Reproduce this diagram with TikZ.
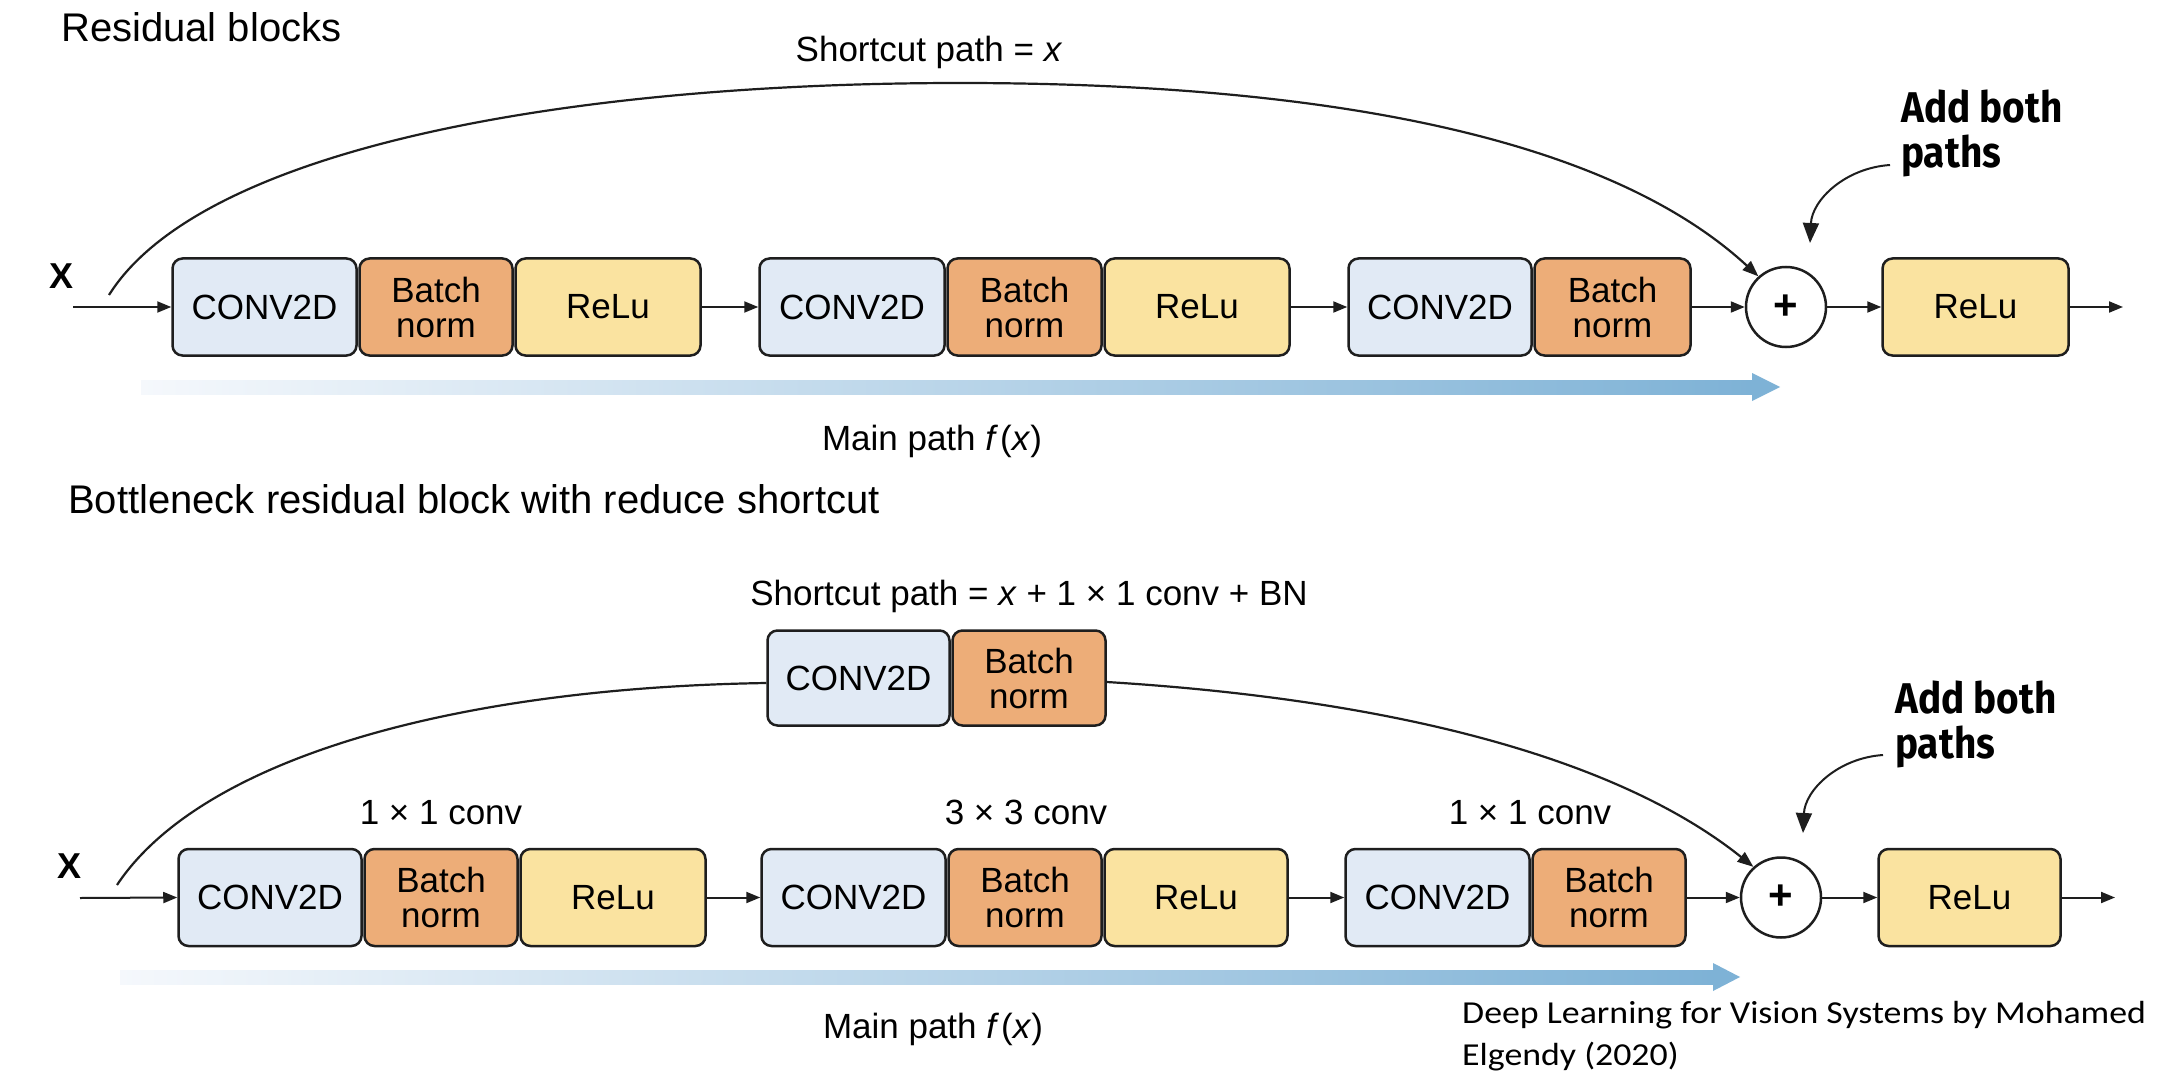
\documentclass[tikz,border=0pt]{standalone}
\usepackage{fontspec}
\setmainfont{Liberation Sans}
\newfontfamily\addfont{Fira Sans}[FakeStretch=0.9]
\newfontfamily\citefont{Carlito}[FakeStretch=1.12]
\usetikzlibrary{arrows.meta,shapes.geometric}
\definecolor{convc}{HTML}{E1EAF5}
\definecolor{bnc}{HTML}{EDAD78}
\definecolor{reluc}{HTML}{FAE3A0}
\definecolor{bluelight}{HTML}{F5F8FC}
\definecolor{bluedark}{HTML}{7EB2D6}
\definecolor{edgec}{HTML}{1E1E1E}
\begin{document}
\begin{tikzpicture}[x=1pt,y=-1pt,
  blk/.style={draw=edgec, line width=2.5pt, rounded corners=10pt, minimum height=97pt, inner sep=0pt, align=center, font=\fontsize{35}{35}\selectfont},
  conv/.style={blk, fill=convc},
  bn/.style={blk, fill=bnc},
  relu/.style={blk, fill=reluc},
  addc/.style={circle, draw=edgec, line width=2.5pt, fill=white, minimum size=80pt, inner sep=0pt, font=\fontsize{42}{42}\selectfont\bfseries},
  flow/.style={draw=edgec, line width=2pt, -{Triangle[length=14pt,width=11pt]}},
  skipc/.style={draw=edgec, line width=2.2pt},
  skiparrow/.style={skipc, -{Triangle[length=16pt,width=12pt]}},
  note/.style={draw=edgec, line width=2pt, -{Triangle[length=20pt,width=16pt]}},
  lbl/.style={inner sep=0pt, anchor=base, font=\fontsize{35}{42}\selectfont},
  title/.style={inner sep=0pt, anchor=base west, font=\fontsize{40}{48}\selectfont},
  xlbl/.style={inner sep=0pt, anchor=base west, font=\fontsize{36}{40}\selectfont\bfseries},
  addlbl/.style={inner sep=0pt, anchor=north west, align=left, font=\addfont\bfseries\fontsize{43}{45}\selectfont},
]
\fill[white] (0,0) rectangle (2176,1075);
\useasboundingbox (0,0) rectangle (2176,1075);

% ---------------- Row 1 ----------------
\node[title] (t1) at (61,42) {Residual blocks};
\node[lbl] (sl1) at (929,62) {Shortcut path = \textit{x}};
\node[xlbl] (x1) at (49,288) {X};

\node[conv, minimum width=184pt] (c11) at (264.5,307) {CONV2D};
\node[bn,   minimum width=153pt] (b11) at (436,307) {Batch\\norm};
\node[relu, minimum width=185pt] (r11) at (608,307) {ReLu};
\node[conv, minimum width=185pt] (c12) at (852,307) {CONV2D};
\node[bn,   minimum width=154pt] (b12) at (1024.5,307) {Batch\\norm};
\node[relu, minimum width=185pt] (r12) at (1197,307) {ReLu};
\node[conv, minimum width=183pt] (c13) at (1440,307) {CONV2D};
\node[bn,   minimum width=156pt] (b13) at (1612.5,307) {Batch\\norm};
\node[addc] (add1) at (1786,307) {+};
\node[relu, minimum width=186pt] (r14) at (1975.5,307) {ReLu};

\coordinate (in1) at (73,307);
\coordinate (out1) at (2123,307);
\coordinate (s1) at (109,295);

\draw[flow] (in1) -- (c11.west);
\draw[flow] (r11.east) -- (c12.west);
\draw[flow] (r12.east) -- (c13.west);
\draw[flow] (b13.east) -- (add1.west);
\draw[flow] (add1.east) -- (r14.west);
\draw[flow] (r14.east) -- (out1);

\draw[skiparrow] (s1) .. controls (200,150) and (560,83) .. (960,83)
  .. controls (1300,83) and (1600,130) .. (add1.132);

\coordinate (m1s) at (141,387);
\coordinate (m1e) at (1752,387);
\shade[left color=bluelight, right color=bluedark] (141,380) rectangle (1752,394);
\fill[bluedark] (1752,373) -- (1780,387) -- (1752,401) -- cycle;
\node[lbl] (ml1) at (932,450) {Main path \textit{f}\kern2pt(\textit{x})};

\node[addlbl] (ab1) at (1901,90) {Add both\\paths};
\coordinate (n1) at (1890,165);
\draw[note] (n1) .. controls (1845,168) and (1812,200) .. (1810,243);

% ---------------- Row 2 ----------------
\node[title] (t2) at (68,513) {Bottleneck residual block with reduce shortcut};
\node[lbl] (sl2) at (1029,605) {Shortcut path = \textit{x} + 1 × 1 conv + BN};
\node[xlbl] (x2) at (57,878) {X};

\node[conv, minimum width=182pt, minimum height=95pt] (sc) at (858.5,678) {CONV2D};
\node[bn,   minimum width=153pt, minimum height=95pt] (sb) at (1029,678) {Batch\\norm};

\node[lbl] (k1) at (441,824) {1 × 1 conv};
\node[lbl] (k2) at (1026,824) {3 × 3 conv};
\node[lbl] (k3) at (1530,824) {1 × 1 conv};

\node[conv, minimum width=183pt] (c21) at (270,897.5) {CONV2D};
\node[bn,   minimum width=153pt] (b21) at (441,897.5) {Batch\\norm};
\node[relu, minimum width=185pt] (r21) at (613,897.5) {ReLu};
\node[conv, minimum width=184pt] (c22) at (853.5,897.5) {CONV2D};
\node[bn,   minimum width=153pt] (b22) at (1025,897.5) {Batch\\norm};
\node[relu, minimum width=183pt] (r22) at (1196,897.5) {ReLu};
\node[conv, minimum width=184pt] (c23) at (1437.5,897.5) {CONV2D};
\node[bn,   minimum width=153pt] (b23) at (1609,897.5) {Batch\\norm};
\node[addc] (add2) at (1781,897.5) {+};
\node[relu, minimum width=182pt] (r24) at (1969.5,897.5) {ReLu};

\coordinate (in2) at (80,898);
\coordinate (out2) at (2115,897.5);
\coordinate (s2) at (117,885);

\draw[flow] (in2) -- (c21.west);
\draw[flow] (r21.east) -- (c22.west);
\draw[flow] (r22.east) -- (c23.west);
\draw[flow] (b23.east) -- (add2.west);
\draw[flow] (add2.east) -- (r24.west);
\draw[flow] (r24.east) -- (out2);

\draw[skipc] (s2) .. controls (200,760) and (450,688) .. ([yshift=-5pt]sc.west);
\draw[skiparrow] ([yshift=-4pt]sb.east) .. controls (1400,700) and (1620,760) .. (add2.132);

\coordinate (m2s) at (120,977);
\coordinate (m2e) at (1713,977);
\shade[left color=bluelight, right color=bluedark] (120,970) rectangle (1713,984);
\fill[bluedark] (1713,963) -- (1740,977) -- (1713,991) -- cycle;
\node[lbl] (ml2) at (933,1038) {Main path \textit{f}\kern2pt(\textit{x})};

\node[addlbl] (ab2) at (1895,681) {Add both\\paths};
\coordinate (n2) at (1883,755);
\draw[note] (n2) .. controls (1838,758) and (1805,790) .. (1803,833);

\node[inner sep=0pt, anchor=base west, align=left, font=\citefont\fontsize{32}{42}\selectfont] (cite) at (1462,1065) {Deep Learning for Vision Systems by Mohamed\\Elgendy (2020)};
\end{tikzpicture}
\end{document}
